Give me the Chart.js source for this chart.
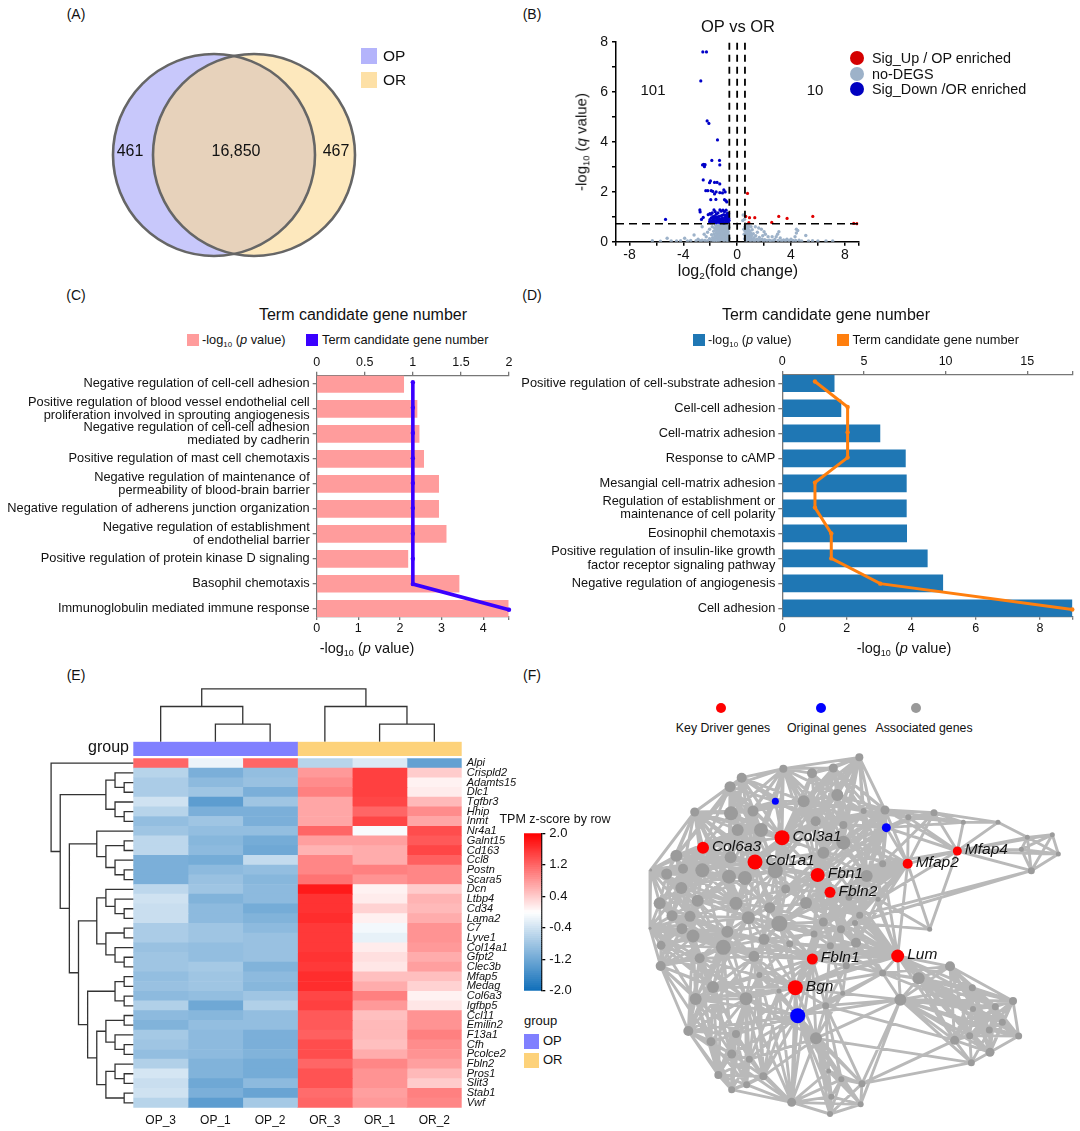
<!DOCTYPE html>
<html><head><meta charset="utf-8">
<script src="https://cdn.jsdelivr.net/npm/chart.js@4"></script>
<style>
html,body{margin:0;padding:0;background:#fff}
#page{position:relative;width:1080px;height:1131px;overflow:hidden;background:#fff;font-family:"Liberation Sans",Arial,sans-serif;color:#111}
canvas{position:absolute}
.t{position:absolute;white-space:nowrap;line-height:1.15}
.t sub{font-size:62%;vertical-align:-3px;line-height:0}
.sq{position:absolute}
</style></head><body><div id="page"></div>
<script>
/* ---------- data ---------- */
const vennSets=['OP','OR'], vennCounts=[461,16850,467];
const vennCircles=[{x:114,y:115,r:101},{x:154,y:115,r:101}];

const volcanoThresholdX=[-0.58,0,0.58], volcanoThresholdY=0.72;
const volcanoCounts=[101,10];
const volcanoUp=[[8.66,.73],[8.9,.72],[.77,1.93],[.64,1.01],[.92,.96],[1.31,.96],[2.57,.77],[3.09,1.01],[3.71,.93],[5.62,1.01],[.87,.76]];
const volcanoDown=[[-2.55,7.59],[-2.28,7.59],[-2.7,6.43],[-2.23,4.83],[-2.1,4.73],[-1.46,4.07],[-1.88,3.25],[-1.31,3.25],[-1.29,3.07],[-2.48,3.09],[-2.38,3.08],[-2.57,3.07],[-2.43,3],[-2.52,2.47],[-1.98,2.43],[-2.05,2.36],[-1.68,2.37],[-1.49,2.37],[-1.29,2.31],[-2.33,2.04],[-2.18,2.04],[-1.93,2.04],[-1.81,2.01],[-1.56,1.99],[-1.68,1.91],[-1.29,1.96],[-.99,2.07],[-.89,1.99],[-1.09,1.95],[-1.96,1.68],[-1.58,1.69],[-.94,1.68],[-.84,1.64],[-.77,1.59],[-2.77,1.27],[-2.75,1.19],[-5.32,.89],[-2.52,.97],[-2.65,.89],
[-2.15,1.08],[-2.02,1.12],[-1.95,1.1],[-1.85,1.15],[-1.72,1.27],[-1.63,1.2],[-1.55,1.1],[-1.42,1.15],[-1.28,1.27],[-1.18,1.22],[-1.05,1.26],[-.94,1.2],[-.82,1.26],[-.72,1.14],[-.66,1.05],[-.75,.98],[-.62,.93],[-.85,1.06],[-1.0,1.08],[-1.12,1.05],[-1.25,1.02],[-1.38,1.0],[-1.52,.98],[-1.68,1.02],[-1.8,1.0],[-1.92,.95],[-2.02,.88],[-2.05,.8],[-1.97,.76],[-1.88,.82],[-1.8,.88],[-1.72,.93],[-1.62,.84],[-1.55,.76],[-1.45,.79],[-1.38,.88],[-1.28,.9],[-1.2,.78],[-1.1,.8],[-1.02,.92],[-.93,.86],[-.85,.77],[-.76,.84],[-.66,.78],[-.6,.85],[-1.72,.77],[-1.3,.76],[-.98,.75],[-1.12,.93],[-1.48,.9],[-1.85,.76],[-.72,.9],[-.9,.97],[-1.6,.95],[-1.33,.82],[-.68,1.0],[-1.15,.86],[-.82,.92],[-1.76,.84],[-1.04,.83],[-1.5,.84],[-.63,1.12]];
const volcanoNone=[[.45,1.07],[.55,.9],[.42,.85],[.62,.7],[-6.3,.04],[-5.7,.02],[-5.2,.14],[-4.9,.03],[-4.5,.03],[-4.2,.04],[-3.9,.14],[-3.7,.03],[-3.45,.05],[-3.2,.27],[-3.05,.04],[-2.9,.1],[-2.75,.04],[-2.6,.6],[-2.6,.06],[-2.45,.3],[-2.4,.05],[-2.3,.2],[-2.2,.38],[-2.2,.04],[-2.05,.5],[-2.05,.12],[-1.95,.07],[-1.9,.28],[-1.85,.6],[-1.82,.16],
[-1.78,.05],[-1.74,.42],[-1.72,.3],[-1.7,.12],[-1.68,.55],[-1.64,.22],[-1.62,.04],[-1.6,.48],[-1.58,.66],[-1.56,.34],[-1.54,.14],[-1.52,.6],[-1.5,.42],[-1.48,.25],[-1.46,.05],[-1.44,.52],[-1.42,.68],[-1.4,.33],[-1.38,.16],[-1.36,.46],[-1.34,.6],[-1.32,.26],[-1.3,.06],[-1.28,.4],[-1.26,.7],[-1.24,.54],[-1.22,.18],[-1.2,.31],[-1.18,.62],[-1.16,.47],[-1.14,.1],[-1.12,.24],[-1.1,.37],[-1.08,.68],[-1.06,.55],[-1.04,.16],[-1.02,.43],[-1,.29],[-.98,.05],[-.96,.62],[-.94,.5],[-.92,.2],[-.9,.36],[-.88,.66],[-.86,.1],[-.84,.27],[-.82,.56],[-.8,.44],[-.78,.15],[-.76,.33],[-.74,.62],[-.72,.22],[-.7,.5],[-.68,.05],[-.66,.4],[-.64,.28],[-.62,.58],[-.6,.14],[-1.46,.38],[-1.22,.42],[-1.03,.6],[-.83,.35],[-.73,.42],[-.94,.14],[-1.14,.33],[-1.33,.13],[-1.52,.2],[-1.12,.52],[-.88,.47],[-.65,.2],[-1.28,.62],[-1.48,.58],[-1.02,.2],[-.8,.06],[-.7,.1],
[.5,.5],[.52,.3],[.55,.12],[.58,.6],[.6,.42],[.62,.22],[.64,.05],[.66,.52],[.68,.33],[.7,.15],[.72,.63],[.74,.44],[.76,.26],[.78,.08],[.8,.56],[.82,.36],[.84,.17],[.86,.48],[.88,.62],[.9,.28],[.92,.1],[.94,.42],[.96,.2],[.98,.05],[1,.34],[1.03,.6],[1.05,.14],[1.08,.25],[1.12,.48],[1.15,.07],[1.2,.32],[1.25,.16],[1.3,.04],[1.35,.6],[1.38,.24],[1.45,.1],[1.5,.38],[1.55,.05],[1.6,.55],[1.65,.17],[1.7,.07],[1.8,.5],[1.85,.1],[1.9,.24],[1.95,.04],[2.0,.4],[2.05,.08],[2.1,.3],[2.2,.05],[2.3,.2],[2.4,.06],[2.5,.04],[2.6,.2],[2.7,.05],[2.8,.09],[2.9,.2],[3.0,.3],[3.05,.05],[3.1,.4],[3.2,.15],[3.3,.04],[3.45,.07],[3.6,.05],[3.7,.1],[3.85,.04],[4.0,.1],[4.15,.05],[4.3,.2],[4.35,.05],[4.4,.35],[4.4,.5],[4.5,.45],[4.6,.06],[4.8,.03],[5.1,.25],[5.3,.03],[5.6,.04],[6.0,.03],[6.6,.03],[7.1,.03]];

const termsC=[['Negative regulation of cell-cell adhesion'],['Positive regulation of blood vessel endothelial cell','proliferation involved in sprouting angiogenesis'],['Negative regulation of cell-cell adhesion','mediated by cadherin'],['Positive regulation of mast cell chemotaxis'],['Negative regulation of maintenance of','permeability of blood-brain barrier'],['Negative regulation of adherens junction organization'],['Negative regulation of establishment','of endothelial barrier'],['Positive regulation of protein kinase D signaling'],['Basophil chemotaxis'],['Immunoglobulin mediated immune response']];
const pValuesC=[2.09,2.41,2.46,2.57,2.93,2.93,3.11,2.19,3.42,4.6];
const geneCountsC=[1,1,1,1,1,1,1,1,1,2];
const termsD=[['Positive regulation of cell-substrate adhesion'],['Cell-cell adhesion'],['Cell-matrix adhesion'],['Response to cAMP'],['Mesangial cell-matrix adhesion'],['Regulation of establishment or','maintenance of cell polarity'],['Eosinophil chemotaxis'],['Positive regulation of insulin-like growth','factor receptor signaling pathway'],['Negative regulation of angiogenesis'],['Cell adhesion']];
const pValuesD=[1.61,1.82,3.03,3.82,3.85,3.85,3.86,4.5,4.98,9];
const geneCountsD=[2,4,4,4,2,2,3,3,6,17.76];
const lineRows=[-.07,.95,1.96,2.97,3.97,4.97,6,7,8.01,9.04];

const samples=['OP_3','OP_1','OP_2','OR_3','OR_1','OR_2'];
const groups=[{name:'OP',from:0,to:3},{name:'OR',from:3,to:6}];
const genes=['Alpi','Crispld2','Adamts15','Dlc1','Tgfbr3','Hhip','Inmt','Nr4a1','Galnt15','Cd163','Ccl8','Postn','Scara5','Dcn','Ltbp4','Cd34','Lama2','C7','Lyve1','Col14a1','Gfpt2','Clec3b','Mfap5','Medag','Col6a3','Igfbp5','Ccl11','Emilin2','F13a1','Cfh','Pcolce2','Fbln2','Pros1','Slit3','Stab1','Vwf'];
const zScoreRows=[
[1.2,-.15,1.2,-.6,-.3,-1.3],[-.6,-1.1,-.9,.8,1.5,.4],[-.7,-.95,-.85,.9,1.5,.1],[-.7,-.8,-1.1,1,1.5,.15],[-.4,-1.35,-.8,.7,1.45,.55],[-.6,-1.1,-1.1,.7,1.2,.9],
[-.9,-.8,-1.1,.7,1.45,.7],[-.8,-.9,-.9,1.2,-.05,1.4],[-.55,-1,-1.15,.75,.75,1.3],[-.55,-.95,-1.2,.6,.65,1.45],[-1.1,-1.15,-.5,.95,.65,1.25],[-1.1,-.95,-.9,.95,1,.95],
[-1.1,-.85,-1,1.1,.85,.95],[-.55,-.8,-.95,1.8,.1,.4],[-.4,-1.05,-.95,1.6,.15,.6],[-.45,-.95,-1.15,1.6,.35,.55],[-.45,-.95,-1.05,1.65,.12,.65],[-.7,-.8,-.95,1.55,-.1,.85],
[-.7,-.8,-.85,1.55,-.2,.85],[-.85,-.9,-.85,1.55,.15,.8],[-.8,-.9,-.85,1.6,.25,.65],[-.8,-.75,-1.05,1.55,.2,.75],[-.9,-.8,-.95,1.65,.5,.5],[-.85,-.8,-1,1.65,.65,.35],
[-.95,-.9,-.8,1.45,1,.1],[-.65,-1.2,-.65,1.5,.8,.2],[-.95,-1,-.9,1.3,.5,.85],[-1.05,-.9,-.9,1.3,.55,.85],[-.75,-.95,-1.1,1.25,.55,1],[-.8,-.95,-1.1,1.4,.5,.9],
[-.9,-.95,-1.05,1.4,.65,.85],[-.65,-1.05,-1.15,1.2,.95,.75],[-.35,-1.05,-1.15,1.35,.85,.55],[-.45,-1.2,-.95,1.35,.85,.4],[-.4,-1.1,-1.25,1.15,.75,1],[-.6,-1.35,-.75,1.2,.8,.95]];
const colDendro=[3,[2,0,[1,1,2]],[2,3,[1,4,5]]];
const rowDendro=[9,0,[8,
 [3,[2,1,[1,2,3]],[2,4,[1,5,6]]],
 [7,[4,7,[3,[1,8,9],[2,10,[1,11,12]]]],
  [6,[4,[3,13,[2,14,[1,15,16]]],[3,[1,17,18],[2,19,[1,20,21]]]],
   [5,[2,[1,22,23],[1,24,25]],
    [4,[3,[1,26,27],[2,28,[1,29,30]]],[3,[2,31,[1,32,33]],[1,34,35]]]]]]]];
const colorbarTicks=[2,1.2,.4,-.4,-1.2,-2];

const netGray=[[658,52,4],[430,86,4],[516,100,5],[580,84,4.5],[305,113,5],[270,140,5.5],[592,165,6],[491,184,6],[339,213,5.5],[164,216,4.5],[273,220,7],[735,210,4.5],[671,213,3],[805,232,3],[882,218,3.5],[970,247,2.5],[1074,247,2.5],[527,244,5],[610,255,4],[293,270,6],[363,270,7],[610,308,7],[550,338,6],[272,352,6],[109,347,6],[129,386,5],[187,391,7],[80,402,5.5],[267,410,7],[315,414,7],[406,392,7.5],[728,371,3.5],[680,408,6],[124,444,6],[437,447,4.5],[173,482,6],[59,490,6],[288,490,6.5],[389,503,5.5],[498,489,6],[627,472,3.5],[714,478,2.5],[96,527,5.5],[150,529,5.5],[325,533,6.5],[418,551,8],[550,546,4.5],[659,526,3.5],[645,549,3],[126,566,5.5],[159,588,6.5],[262,575,6],[372,598,5.5],[522,582,3.5],[603,568,4],[869,568,2.5],[63,616,4.5],[449,611,3.5],[571,617,3.5],[648,608,5],[250,622,7.5],[342,649,5.5],[179,655,5],[62,678,5],[619,677,3.5],[358,705,3],[728,699,3.5],[836,715,6],[930,679,5],[219,741,6],[417,753,2.5],[167,777,6],[318,776,6.5],[781,779,6],[997,743,3.5],[608,760,2.5],[557,797,3.5],[1119,783,4],[1066,800,3.5],[999,807,3],[1087,847,3.5],[1048,870,3.5],[145,873,5],[288,882,4],[528,895,6],[213,905,4.5],[989,887,3.5],[1136,888,3.5],[944,901,4.5],[1050,937,4.5],[275,942,4.5],[328,958,3.5],[994,968,3.5],[235,1005,4],[370,1009,4],[566,993,2.5],[604,1018,3],[666,1031,3.5],[320,1034,3.5],[275,1049,3.5],[455,1087,4.5],[574,1070,3],[662,1093,3],[570,1122,3],[1162,292,2.5],[1237,284,2.5],[1144,328,2.5],[1255,342,2.5],[1174,392,3.5],[32,390,1.5],[30,565,1.5]];
const netKey=[[426,293,7.5,'Col3a1'],[189,323,6,'Col6a3'],[345,366,7.5,'Col1a1'],[533,405,7,'Fbn1'],[570,457,5.5,'Fbln2'],[803,371,5,'Mfap2'],[952,333,4.5,'Mfap4'],[517,657,5.5,'Fbln1'],[773,648,6.5,'Lum'],[466,743,7.5,'Bgn']];
const netOriginal=[[406,184,3.5],[739,263,4.5],[473,827,7.5]];
const netLinks=[
[1,[4,5,8,10,7,6,17,121,20,111,2,3,0,19,22,30,113,114,18,21]],[2,[0,3,6,7,17,18,111,21]],[3,[0,6,7,17,18,11,12,21,22,114,111,30,32,122]],[0,[6,7,11,12,17,18,21,22,114,111,30,32,31]],[6,[7,11,12,17,18,21,22,32,111,114,122]],
[4,[5,8,9,10,19,20,111,121,24,23,28,113,30,7,17]],[5,[9,10,19,20,24,112,8,23,28,29,111,30,121,113]],[9,[10,19,24,25,26,27,109,112,23,113,28,29,37,30,8,111,20]],[109,[24,25,27,33,36,110,112,42,26,35,28,37,23,43,44]],[110,[36,42,49,50,56,63,43,33,60,62,35,37,44,51,52,72,69]],
[63,[56,62,82,71,50,69,60,85,51,72,83]],[82,[71,85,90,93,99,83,69,62,100,72,60,44,61]],[99,[90,93,98,100,91,94,83,85]],[100,[94,95,96,101,102,103,84,98,91,123,120,72,65,70,118]],[103,[95,96,97,101,102,84]],[102,[84,95,96,97,101,73]],[97,[84,92,73,123,88]],[92,[84,88,89,86,73]],
[67,[68,73,74,78,79,81,86,88,119,66,77,80,87,89]],[68,[73,74,77,78,79,80,81,86,88,119]],[73,[74,77,79,81,86,88,89,119,84,123,76,66,78,92,87]],[74,[77,78,79,80,81,86,87,88,89]],[77,[78,79,80,81,87,86,89]],[78,[79,80,81,86,87,88,89]],[79,[81,86,88,89,80]],[80,[81,86,87,88,89]],[81,[86,87,88,89,92]],[86,[87,88,89,92]],[88,[89,92,76]],[89,[92,87]],
[119,[59,64,66,53,54,118,47,48,40,41,32,116,31,120,39,46,58,57,74,79,81,86,88,89,78,45,44,52,34,22,114,115,72,60]],[116,[122,11,13,14,117,31,32,40,41,47,21,22,114,115,55,119,18,39,46,53,54,34,45,59,58]],[117,[14,15,13,122,11,106,104,16,108,41,31,105,107,55]],
[108,[104,105,106,107,47,48]],[105,[104,107,106]],[107,[104,106]],[104,[106,16]],[16,[15,14]],[15,[14,13,11,122]],[14,[13,11,122,31]],[13,[11,122,12]],
[123,[120,84,76,70,72,83,85,65,94,118,57,90,82,71,75,96,95,101,103,91]],[84,[76,95,96,97,101,94,75,91,120,72,118]],
[113,[112,111,114,115,10,19,20,23,26,28,29,30,34,37,38,44,45,60,33,35,24,8,17,22,51,52]],[111,[112,114,8,10,19,20,30,17,22,21,121,7,29,28,34,45,39]],[112,[10,19,20,23,24,25,26,27,28,29,33,35,37,36,42,43]],
[114,[115,17,18,21,22,30,32,34,39,40,46,47,53,54,58,59,45,38,7,31,122,118]],[115,[32,39,40,46,47,53,54,58,59,64,34,45,118,41]],[118,[45,46,52,53,54,57,58,59,60,61,64,65,66,70,72,120,44,51]],[120,[57,58,61,65,70,72,69,71,60,45,52,62,83,76,75,64,66,46,53]],
[60,[26,33,35,37,42,43,44,49,50,51,52,61,62,69,71,72,45,36]],[37,[26,28,29,33,35,38,43,44,45,51,23,34,30]],[45,[30,34,38,39,44,46,51,52,53,54,57,61,21,22]],[50,[33,35,36,42,43,49,51,56,62,69,71,82]],[62,[56,69,71,72,82,85,51,61,83]],[71,[69,72,83,85,90,93,65]],[72,[69,83,85,90,91,93,94,65,70,61,98,99]],[69,[85,90,93,83]],[83,[85,90,91,93,94,98,99]],[90,[85,91,93,94,98,62,60]],[94,[91,93,98,72,61,65,70,123,84,120]],[36,[27,33,42,43,49,56,25,35]],[33,[24,25,26,27,35,42,43]],[24,[25,26,27]],[26,[25,27,28,35,23]],
[21,[18,17,22,30,32,122,11,12,7,31]],[122,[11,12,18,7,17,22,32,31,114,115,39,34,46]],[32,[22,31,40,41,47,48,59]],[39,[22,30,34,38,40,46,47]],[59,[47,48,54,58,64,66,41]],[41,[55,40]],[55,[48]],[10,[8,19,20,23,121]],[20,[8,19,121,30,28,29]],[17,[7,18,22,121,30,21]],
[27,[25,28,33,35,36,42,112,26,43,23]],[25,[28,35,42,43,23,37,113]],[28,[23,29,33,35,43,44,30,38,19,10,51]],[29,[23,30,38,44,34,19,20,8,45,51]],[30,[8,34,38,44,22,39,52]],[35,[42,43,44,49,51,23,28,29]],[42,[43,49,50,51,56,44,63]],[43,[49,51,44,56,61,62]],[49,[51,56,62,61,63]],[51,[44,52,61,62,72,69,71]],[44,[38,52,61,34,57,118]],[38,[52,34,57,46,39,53,118]],[52,[57,61,65,70,53]],[61,[65,70,69,72]],[56,[62,71,69,60,51,50]],
[8,[10,19,121,7,23,28,29]],[19,[23,28,29,30,26,24,25,27,33]],[23,[24,25,27,33,30,8]],[7,[17,18,22,30,121,32]],[22,[30,34,38,46,18,53,54]],[12,[18,7,32,21,31]],[11,[18,21,32,31,47,40,22,114,111,17,39,7]],[31,[40,41,47]],[40,[46,47,48,53,54,58]],[46,[53,54,57,58,64]],[54,[53,58,47,48,64,66]],[58,[53,64,66,57,76,75]],
[85,[93,98,99,83]],[93,[98,91,94,71,69,60]],[91,[98,65,70]],[65,[70,57,69]],[95,[96,101,97]],[96,[101,97]],[101,[103,102]],[76,[95,96,97,64,66,75,118]],[75,[66,73,84,64]],[66,[67,68,74,79,64,59,48]],[98,[72,83]]];

/* ---------- helpers ---------- */
const page=document.getElementById('page');
const FF='"Liberation Sans",Arial,sans-serif';
Chart.defaults.font.family=FF; Chart.defaults.color='#111';
function T(html,x,y,size,anchor='c',rot=0,extra=''){
  const d=document.createElement('div');d.className='t';d.innerHTML=html;
  const tx=anchor==='c'?'-50%':anchor==='r'?'-100%':'0';
  d.style.cssText=`left:${x}px;top:${y}px;font-size:${size}px;transform:translate(${tx},-50%) rotate(${rot}deg);${extra}`;
  page.appendChild(d);
}
function SQ(x,y,w,h,c,round){
  const d=document.createElement('div');d.className='sq';
  d.style.cssText=`left:${x}px;top:${y}px;width:${w}px;height:${h}px;background:${c};${round?'border-radius:50%;':''}`;
  page.appendChild(d);
}
/* rect=[x0,y0,x1,y1] plot area in page px; m=[l,t,r,b] room kept around it */
function mk(rect,m,type,data,scales,plugins=[]){
  const c=document.createElement('canvas');
  const left=Math.floor(rect[0]-m[0]),top=Math.floor(rect[1]-m[1]);
  const w=Math.ceil(rect[2]+m[2])-left,h=Math.ceil(rect[3]+m[3])-top;
  c.width=w;c.height=h;c.style.cssText=`left:${left}px;top:${top}px;width:${w}px;height:${h}px`;
  page.appendChild(c);
  const L=rect[0]-left,Tp=rect[1]-top,R=left+w-rect[2],B=top+h-rect[3];
  const pad={left:L,top:Tp,right:R,bottom:B};
  for(const k in scales){const s=scales[k];if(s.display===false)continue;
    const pos=s.position;
    if(pos==='left'){s.afterFit=a=>{a.width=L};pad.left=0}
    if(pos==='right'){s.afterFit=a=>{a.width=R};pad.right=0}
    if(pos==='top'){s.afterFit=a=>{a.height=Tp};pad.top=0}
    if(pos==='bottom'){s.afterFit=a=>{a.height=B};pad.bottom=0}
  }
  return new Chart(c,{type,data,plugins,options:{responsive:false,animation:false,devicePixelRatio:1,events:[],
    layout:{autoPadding:false,padding:pad},plugins:{legend:{display:false},tooltip:{enabled:false}},scales}});
}
const hidden=(min,max,reverse=false)=>({type:'linear',display:false,min,max,reverse,offset:false});
const pts=a=>a.map(p=>({x:p[0],y:p[1]}));
function axis(pos,min,max,vals,labelFn,col,size,tickLen,pad,bw=1.3,lineHeight=1.2){
  return {type:'linear',position:pos,min,max,offset:false,
    afterBuildTicks:s=>{s.ticks=vals.map(v=>({value:v}))},
    border:{display:true,color:col,width:bw},
    grid:{offset:false,drawOnChartArea:false,drawTicks:true,tickLength:tickLen,color:col,lineWidth:bw},
    ticks:{autoSkip:false,maxRotation:0,minRotation:0,padding:pad,color:'#111',font:{size,family:FF,lineHeight},callback:labelFn}};
}

/* ---------- labels ---------- */
[['(A)',76,14],['(B)',532,14],['(C)',76,295],['(D)',532,295],['(E)',76,675],['(F)',532,675]].forEach(a=>T(a[0],a[1],a[2],14));

/* ---------- A ---------- */
mk([100,40,370,270],[0,0,0,0],'bubble',{datasets:[
  {data:vennCircles,backgroundColor:'rgba(0,0,0,0)',borderColor:'#666',borderWidth:2.6,clip:false},
  {data:[vennCircles[1]],backgroundColor:'rgba(252,217,145,.6)',borderWidth:0},
  {data:[vennCircles[0]],backgroundColor:'rgb(200,200,251)',borderWidth:0}
]},{x:hidden(0,270),y:hidden(0,230)});
T(String(vennCounts[0]),130,151,16);T(vennCounts[1].toLocaleString('en-US'),236,151,16);T(String(vennCounts[2]),336,151,16);
SQ(361,48,16,16,'#b4b4fb');SQ(361,72,16,16,'#fde0a6');
T(vennSets[0],383,56,15.5,'l');T(vennSets[1],383,80,15.5,'l');

/* ---------- B ---------- */
const vx=[-9,-8,-6,-4,-2,0,2,4,6,8,9],vy=[0,1,2,3,4,5,6,7,8];
mk([616,41.7,858.3,241.7],[40,14,6,24],'scatter',{datasets:[
  ...volcanoThresholdX.map(x=>({data:pts([[x,0],[x,8]]),showLine:true,borderColor:'#000',borderWidth:1.8,borderDash:[7,5],pointRadius:0})),
  {data:pts([[-9,volcanoThresholdY],[9,volcanoThresholdY]]),showLine:true,borderColor:'#000',borderWidth:1.6,borderDash:[8,5],pointRadius:0},
  {data:pts(volcanoUp),pointRadius:1.6,backgroundColor:'#e00000',borderWidth:0},
  {data:pts(volcanoDown),pointRadius:1.6,backgroundColor:'#0000c8',borderWidth:0},
  {data:pts(volcanoNone),pointRadius:1.7,backgroundColor:'#9db2c9',borderWidth:0}
]},{
  x:axis('bottom',-9,9,vx,v=>(v%4===0?String(v):''),'#000',14,4,1,1.5),
  y:axis('left',0,8,vy,v=>(v%2===0?String(v):''),'#000',14,4,4,1.5)
});
T('OP vs OR',738,26,16.5);
T(String(volcanoCounts[0]),653,90,15);T(String(volcanoCounts[1]),815,90,15);
T('log<sub>2</sub>(fold change)',738,271,16);
T('-log<sub>10</sub> (<i>q</i> value)',581,142,15,'c',-90);
[['#d40000','Sig_Up / OP enriched',58],['#9db2c9','no-DEGS',73.5],['#0000c0','Sig_Down /OR enriched',89]].forEach(a=>{
  SQ(849.5,a[2]-7,14,14,a[0],true);T(a[1],872,a[2],14.4,'l');});

/* ---------- C / D ---------- */
function enrich(rect,L,terms,pv,gc,barCol,lineCol,lineW,xMax,x2Max,xv,x2v,x2fmt,yMin,yMax){
  const rows=terms.map((_,i)=>i);
  const xLast=xv[xv.length-1];
  mk(rect,[L,26,14,24],'bar',{datasets:[
    {type:'line',indexAxis:'y',xAxisID:'x2',yAxisID:'y',data:gc.map((v,i)=>({x:v,y:lineRows[i]})),borderColor:lineCol,backgroundColor:lineCol,borderWidth:lineW,pointRadius:2.2,pointBorderWidth:0,tension:0,clip:false,order:0},
    {type:'bar',indexAxis:'y',xAxisID:'x',yAxisID:'y',grouped:false,data:pv.map((v,i)=>({x:v,y:i})),backgroundColor:barCol,barThickness:17,order:1}
  ]},{
    x:axis('bottom',0,xMax,xv,v=>(v===xLast?'':String(v)),'#777',12.5,3,1),
    x2:axis('top',0,x2Max,x2v,x2fmt,'#777',12.5,4,2),
    y:Object.assign(axis('left',yMin,yMax,rows,v=>terms[v],'#777',12.8,4,3,1.3,1.03),{reverse:true})
  });
}
enrich([316.7,375.7,509,617],316,termsC,pValuesC,geneCountsC,'#ff9c9c','#3a00ff',3.6,4.62,2,[0,1,2,3,4,4.62],[0,.5,1,1.5,2],v=>String(v),-.33,9.33);
enrich([782.3,375,1072.3,616.7],270,termsD,pValuesD,geneCountsD,'#1f77b4','#ff7f0e',3,9,17.76,[0,2,4,6,8,9],[0,5,10,15,17.76],v=>(v%5===0?String(v):''),-.33,9.33);
T('Term candidate gene number',363,315,16);T('Term candidate gene number',826,315,16);
SQ(187,334,12,12,'#ff9c9c');T('-log<sub>10</sub> (<i>p</i> value)',202,340,12.8,'l');
SQ(306,334,12,12,'#3a00ff');T('Term candidate gene number',322,340,12.8,'l');
SQ(693,334,12,12,'#1f77b4');T('-log<sub>10</sub> (<i>p</i> value)',708,340,12.8,'l');
SQ(836.5,334,12,12,'#ff7f0e');T('Term candidate gene number',852.5,340,12.8,'l');
T('-log<sub>10</sub> (<i>p</i> value)',367,648,14.5);T('-log<sub>10</sub> (<i>p</i> value)',904,648,14.5);

/* ---------- E ---------- */
function zColor(z){
  z=Math.max(-2,Math.min(2,z));
  const mix=(a,b,t)=>Math.round(a+(b-a)*t);
  if(z>=0){const t=z/2;return `rgb(255,${mix(255,0,t)},${mix(255,0,t)})`}
  const t=-z/2;return `rgb(${mix(255,15,t)},${mix(255,110,t)},${mix(255,185,t)})`;
}
const H=[133.3,758.3,461.7,1107.7];
mk(H,[0,14,60,24],'bar',{labels:genes,datasets:samples.map((s,c)=>({
  indexAxis:'y',label:s,grouped:false,barPercentage:1,categoryPercentage:1,
  data:zScoreRows.map(r=>[c,c+1]),backgroundColor:zScoreRows.map(r=>zColor(r[c])),borderWidth:0
}))},{
  x:{type:'linear',position:'bottom',min:0,max:6,offset:false,border:{display:false},grid:{display:false,drawTicks:false},
     afterBuildTicks:s=>{s.ticks=samples.map((_,i)=>({value:i+.5}))},
     ticks:{autoSkip:false,maxRotation:0,padding:6,color:'#111',font:{size:12},callback:v=>samples[Math.floor(v)]}},
  y:{type:'category',position:'right',offset:true,border:{display:false},grid:{display:false,drawTicks:false},
     ticks:{autoSkip:false,padding:5,color:'#111',font:{size:11,style:'italic'}}}
});
function dendro(node,out){
  if(typeof node==='number')return {p:node,h:0};
  const a=dendro(node[1],out),b=dendro(node[2],out),h=node[0];
  out.push([a.h,a.p],[h,a.p],[h,b.p],[b.h,b.p],null);
  return {p:(a.p+b.p)/2,h};
}
const rowSegs=[];dendro(rowDendro,rowSegs);
const colSegs=[];dendro(colDendro,colSegs);
mk([50,758.3,133.3,1107.7],[0,0,0,0],'scatter',{datasets:[{data:rowSegs.map(s=>s?{x:s[0],y:s[1]}:{x:null,y:null}),showLine:true,spanGaps:false,pointRadius:0,borderColor:'#333',borderWidth:1.3,clip:false}]},
  {x:hidden(0,9.12,true),y:hidden(-.5,35.5,true)});
mk([133.3,688,461.7,741.7],[0,0,0,0],'scatter',{datasets:[{data:colSegs.map(s=>s?{x:s[1],y:s[0]}:{x:null,y:null}),showLine:true,spanGaps:false,pointRadius:0,borderColor:'#333',borderWidth:1.3,clip:false}]},
  {x:hidden(-.5,5.5),y:hidden(0,3.05)});
const groupColors=['#8080ff','#fdd27a'];
mk([133.3,741.7,461.7,756],[0,0,0,0],'bar',{labels:['group'],datasets:groups.map((g,i)=>({indexAxis:'y',grouped:false,barPercentage:1,categoryPercentage:1,data:[[g.from,g.to]],backgroundColor:groupColors[i]}))},
  {x:hidden(0,6),y:{type:'category',display:false,offset:true}});
T('group',129,747,16,'r');
/* colour bar */
const barLevels=[];for(let i=0;i<80;i++)barLevels.push(-2+i*.05);
mk([524,833.3,541.3,990.7],[0,14,36,14],'bar',{labels:barLevels.map(String),datasets:[{
  data:barLevels.map(v=>({x:0,y:[v,v+.055]})),parsing:{xAxisKey:'x',yAxisKey:'y'},backgroundColor:barLevels.map(v=>zColor(v+.025)),barPercentage:1,categoryPercentage:1,xAxisID:'x',yAxisID:'y'}]},
  {x:{type:'linear',display:false,min:-.5,max:.5,offset:false},
   y:axis('right',-2,2,colorbarTicks,v=>v.toFixed(1),'#000',13,4,4,1.3)});
T('TPM z-score by row',555,819,12.5);
T('group',524,1021,13,'l');
SQ(524,1034,15,15,groupColors[0]);SQ(524,1053,15,15,groupColors[1]);
T(groups[0].name,543,1041,13,'l');T(groups[1].name,543,1060,13,'l');

/* ---------- F ---------- */
const netAll=netGray.concat(netKey,netOriginal);
const netSegs=[];
netLinks.forEach(([a,list])=>list.forEach(b=>{netSegs.push({x:netAll[a][0],y:netAll[a][1]},{x:netAll[b][0],y:netAll[b][1]},{x:null,y:null})}));
const nodeLabels={id:'nodeLabels',afterDatasetsDraw(ch){
  const c=ch.ctx,sx=ch.scales.x,sy=ch.scales.y;c.save();c.fillStyle='#111';c.font='italic 15.5px '+FF;c.textBaseline='middle';
  netKey.forEach(n=>c.fillText(n[3],sx.getPixelForValue(n[0])+8+(n[2]-5),sy.getPixelForValue(n[1])-1));c.restore();}};
const nodeSet=(arr,col,order)=>({data:pts(arr),pointRadius:arr.map(n=>n[2]),backgroundColor:col,borderWidth:0,order,clip:false});
mk([640,740,1080,1120],[0,0,0,0],'scatter',{datasets:[
  nodeSet(netKey,'#ff0000',0),nodeSet(netOriginal,'#0000ff',0),nodeSet(netGray,'#9b9b9b',1),
  {data:netSegs,showLine:true,spanGaps:false,pointRadius:0,borderColor:'#b9b9b9',borderWidth:2.9,order:2,clip:false}
]},{x:hidden(0,1320),y:hidden(0,1140,true)},[nodeLabels]);
SQ(715.7,702.7,10,10,'#ff0000',true);SQ(816.3,702.7,10,10,'#0000ff',true);SQ(910.7,702.7,10,10,'#999',true);
T('Key Driver genes',723,728,12.3);T('Original genes',826.7,728,12.3);T('Associated genes',924,728,12.3);
</script></body></html>
